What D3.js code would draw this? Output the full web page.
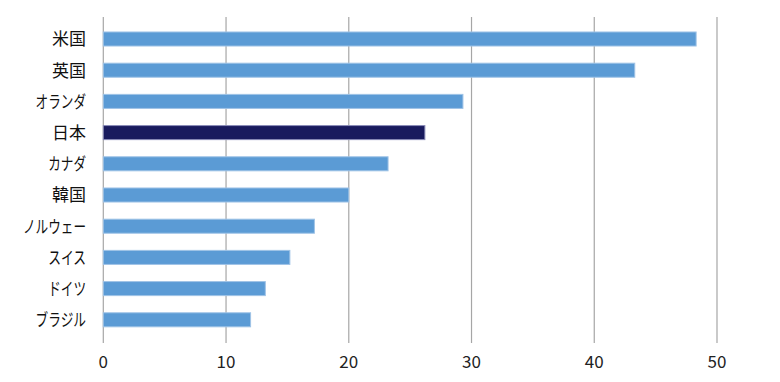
<!DOCTYPE html>
<html><head><meta charset="utf-8">
<script src="https://cdn.jsdelivr.net/npm/d3@7"></script>
<style>body{margin:0;background:#fff}svg{display:block}</style>
</head><body>
<svg id="c" width="780" height="382"></svg>
<script>
const categories = ["米国","英国","オランダ","日本","カナダ","韓国","ノルウェー","スイス","ドイツ","ブラジル"];
const values = [48.3, 43.3, 29.3, 26.2, 23.2, 20.0, 17.2, 15.2, 13.2, 12.0];
const tickValues = [0, 10, 20, 30, 40, 50];
const highlight = "日本";

const svg = d3.select("#c");
const x = d3.scaleLinear().domain([0, 50]).range([103.3, 717]);
const y = d3.scaleBand().domain(categories).range([23.4, 335.4]).paddingInner(0.55).paddingOuter(0.275);
const gridTop = 17, gridBottom = 343;

// gridlines
svg.append("g").selectAll("line").data(tickValues).join("line")
  .attr("x1", d => x(d)).attr("x2", d => x(d))
  .attr("y1", gridTop).attr("y2", gridBottom)
  .attr("stroke", "#a6a6a6").attr("stroke-width", 1.2);

// x tick labels
svg.append("g").selectAll("text").data(tickValues).join("text")
  .attr("x", d => x(d)).attr("y", 368)
  .attr("text-anchor", "middle")
  .attr("font-family", "'Noto Sans CJK JP', 'Noto Sans', sans-serif")
  .attr("font-size", 17).attr("fill", "#222")
  .text(d => d);

// bars
const data = categories.map((c, i) => ({c, v: values[i]}));
svg.append("g").selectAll("rect").data(data).join("rect")
  .attr("x", x(0)).attr("y", d => y(d.c))
  .attr("width", d => x(d.v) - x(0)).attr("height", y.bandwidth())
  .attr("fill", d => d.c === highlight ? "#191b5e" : "#5b9bd5")
  .attr("stroke", d => d.c === highlight ? "#8a8cb8" : "#9fc3e6")
  .attr("stroke-width", 1);

// category labels (proportional kana like the original UI font)
const charW = ch => /[\u30A0-\u30FF]/.test(ch) ? 12.6 : 17;
svg.append("g").selectAll("text").data(categories).join("text")
  .attr("x", 86).attr("y", d => y(d) + y.bandwidth() / 2)
  .attr("dy", "0.37em")
  .attr("text-anchor", "end")
  .attr("font-family", "'Noto Sans CJK JP', sans-serif")
  .attr("font-size", 17.5).attr("fill", "#111")
  .attr("textLength", d => Array.from(d).reduce((s, ch) => s + charW(ch), 0))
  .attr("lengthAdjust", "spacingAndGlyphs")
  .text(d => d);
</script>
</body></html>
